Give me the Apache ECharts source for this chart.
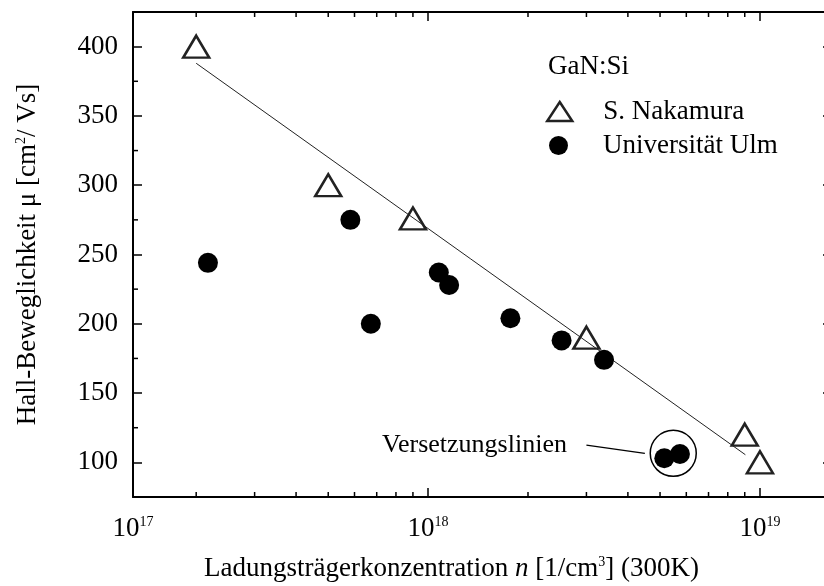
<!DOCTYPE html>
<html>
<head>
<meta charset="utf-8">
<script src="https://cdn.jsdelivr.net/npm/echarts@6/dist/echarts.min.js"></script>
<style>html,body{margin:0;padding:0;background:#fff;}#c{width:824px;height:586px;}</style>
</head>
<body>
<div id="c"></div>
<script>
// ---- data ----
const nakamuraX = [2.0e17, 5.0e17, 9.0e17, 3.0e18, 9.0e18, 1.0e19];
const nakamuraY = [400, 300, 276, 190, 120, 100];
const ulmX = [2.17e17, 5.83e17, 6.72e17, 1.077e18, 1.157e18, 1.77e18, 2.525e18, 3.39e18, 5.15e18, 5.74e18];
const ulmY = [244, 275, 200, 237, 228, 204, 188, 174, 103, 106];
const fitX = [2.0e17, 9.04e18];
const fitY = [388, 105.5];
const ringX = [5.48e18];
const ringY = [106.5];
const leaderX = [3.0e18, 4.5e18];
const leaderY = [112.5, 106.5];
const annotationText = 'Versetzungslinien';
const legendTitle = 'GaN:Si';
const seriesNames = ['S. Nakamura', 'Universität Ulm'];
const xMinorTicks = [2e17,3e17,4e17,5e17,6e17,7e17,8e17,9e17,2e18,3e18,4e18,5e18,6e18,7e18,8e18,9e18];
const yMinorTicks = [125,175,225,275,325,375];
const xMin = 1.29e17, xMax = 1.649e19, yMin = 75, yMax = 425;

const F = 'Liberation Serif';
const zip = (a, b) => a.map((v, i) => [v, b[i]]);

const chart = echarts.init(document.getElementById('c'));
const axisLineStyle = { color: '#000', width: 2 };
const richBase = {
  t: { fontSize: 27, fontFamily: F, color: '#000', verticalAlign: 'bottom' },
  i: { fontSize: 27, fontFamily: F, fontStyle: 'italic', color: '#000', verticalAlign: 'bottom' },
  s: { fontSize: 14, fontFamily: F, color: '#000', verticalAlign: 'top' }
};

function minorX(params, api) {
  const cs = params.coordSys;
  const p = api.coord([api.value(0), api.value(1)]);
  const b = cs.y + cs.height, t = cs.y;
  const st = { stroke: '#000', lineWidth: 1.5 };
  return { type: 'group', children: [
    { type: 'line', shape: { x1: p[0], y1: b, x2: p[0], y2: b - 5 }, style: st },
    { type: 'line', shape: { x1: p[0], y1: t, x2: p[0], y2: t + 5 }, style: st }
  ]};
}
function minorY(params, api) {
  const cs = params.coordSys;
  const p = api.coord([api.value(0), api.value(1)]);
  const l = cs.x, r = cs.x + cs.width;
  const st = { stroke: '#000', lineWidth: 1.5 };
  return { type: 'group', children: [
    { type: 'line', shape: { x1: l, y1: p[1], x2: l + 5, y2: p[1] }, style: st },
    { type: 'line', shape: { x1: r, y1: p[1], x2: r - 5, y2: p[1] }, style: st }
  ]};
}

const triStyle = { color: 'rgba(0,0,0,0)', borderColor: '#222', borderWidth: 2.5, opacity: 1 };

chart.setOption({
  animation: false,
  backgroundColor: '#fff',
  title: { text: legendTitle, left: 548, top: 53, padding: 0,
    textStyle: { fontSize: 27, fontWeight: 'normal', fontFamily: F, color: '#000' } },
  legend: [
    { data: [{ name: seriesNames[0], icon: 'triangle', itemStyle: triStyle }],
      left: 546, top: 98, padding: 0, itemWidth: 25, itemHeight: 19, symbolKeepAspect: false,
      textStyle: { fontSize: 27, fontFamily: F, color: '#000', padding: [0, 0, 0, 26] } },
    { data: [{ name: seriesNames[1], icon: 'circle', itemStyle: { color: '#000', opacity: 1 } }],
      left: 549, top: 132, padding: 0, itemWidth: 19, itemHeight: 19,
      textStyle: { fontSize: 27, fontFamily: F, color: '#000', padding: [0, 0, 0, 30] } }
  ],
  grid: { left: 133, width: 699, top: 12, height: 485, containLabel: false, outerBoundsMode: 'none' },
  xAxis: [
    { type: 'log', logBase: 10, min: xMin, max: xMax, position: 'bottom',
      axisLine: { lineStyle: axisLineStyle },
      axisTick: { inside: true, length: 9, lineStyle: { color: '#000', width: 1.5 } },
      splitLine: { show: false },
      axisLabel: { margin: 18, showMaxLabel: false, color: '#000',
        formatter: v => '{t|10}{s|' + Math.round(Math.log10(v)) + '}', rich: richBase },
      name: '{t|Ladungsträgerkonzentration }{i|n}{t| [1/cm}{s|3}{t|] (300K)}',
      nameLocation: 'middle', nameGap: 58,
      nameTextStyle: { fontSize: 27, fontFamily: F, color: '#000', rich: richBase,
        padding: [0, 62, 0, 0] }
    },
    { type: 'log', logBase: 10, min: xMin, max: xMax, position: 'top',
      axisLine: { lineStyle: axisLineStyle },
      axisTick: { inside: true, length: 9, lineStyle: { color: '#000', width: 1.5 } },
      splitLine: { show: false }, axisLabel: { show: false } }
  ],
  yAxis: [
    { type: 'value', min: yMin, max: yMax, splitNumber: 7, position: 'left',
      axisLine: { show: true, lineStyle: axisLineStyle },
      axisTick: { show: true, inside: true, length: 9, lineStyle: { color: '#000', width: 1.5 } },
      splitLine: { show: false },
      axisLabel: { margin: 15, showMinLabel: false, showMaxLabel: false, color: '#000',
        fontSize: 27, fontFamily: F },
      name: '{t|Hall-Beweglichkeit μ [cm}{s|2}{t|/ Vs]}',
      nameLocation: 'middle', nameGap: 92, nameRotate: 90,
      nameTextStyle: { fontSize: 27, fontFamily: F, color: '#000', rich: richBase }
    },
    { type: 'value', min: yMin, max: yMax, splitNumber: 7, position: 'right',
      axisLine: { show: true, lineStyle: axisLineStyle },
      axisTick: { show: true, inside: true, length: 9, lineStyle: { color: '#000', width: 1.5 } },
      splitLine: { show: false }, axisLabel: { show: false } }
  ],
  series: [
    { type: 'line', data: zip(fitX, fitY), showSymbol: false, symbol: 'none', silent: true,
      lineStyle: { color: '#222', width: 1 }, z: 2 },
    { type: 'line', data: zip(leaderX, leaderY), showSymbol: false, symbol: 'none', silent: true,
      lineStyle: { color: '#000', width: 1.3 }, z: 2 },
    { type: 'scatter', data: [[leaderX[0], leaderY[0]]], symbolSize: 1, silent: true,
      itemStyle: { color: 'rgba(0,0,0,0)', opacity: 1 },
      label: { show: true, position: 'left', distance: 19, formatter: annotationText,
        fontSize: 26, fontFamily: F, color: '#000', opacity: 1 } },
    { type: 'scatter', data: zip(ringX, ringY), symbol: 'circle', symbolSize: 46, silent: true,
      itemStyle: { color: 'rgba(0,0,0,0)', borderColor: '#000', borderWidth: 1.5, opacity: 1 }, z: 3 },
    { name: seriesNames[0], type: 'scatter', data: zip(nakamuraX, nakamuraY), symbol: 'triangle',
      symbolSize: [26, 22], itemStyle: triStyle, z: 4 },
    { name: seriesNames[1], type: 'scatter', data: zip(ulmX, ulmY), symbol: 'circle',
      symbolSize: 20, itemStyle: { color: '#000', opacity: 1 }, z: 4 },
    { type: 'custom', data: xMinorTicks.map(v => [v, yMin]), renderItem: minorX, silent: true, clip: false },
    { type: 'custom', data: yMinorTicks.map(v => [xMin, v]), renderItem: minorY, silent: true, clip: false }
  ]
});
</script>
</body>
</html>
